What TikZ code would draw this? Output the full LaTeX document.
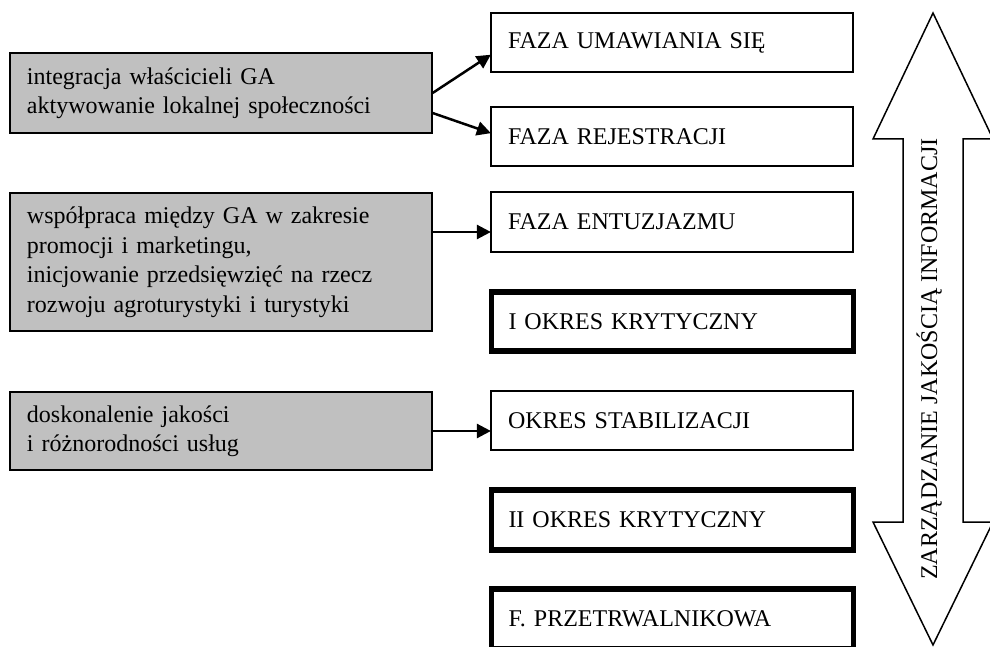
\documentclass[tikz,border=0pt]{standalone}
\usepackage{fontspec}
\setmainfont{Liberation Serif}
\usetikzlibrary{arrows.meta}
\definecolor{boxgray}{RGB}{192,192,192}
\newcommand\myfs{\fontsize{24}{29.5}\selectfont}
\begin{document}
\begin{tikzpicture}[x=1pt,y=-1pt,
  lbox/.style={draw, fill=boxgray, line width=1.2pt, rectangle, minimum width=422pt,
    inner xsep=17pt, inner ysep=0pt, text width=388pt, align=left, font=\myfs},
  rbox/.style={draw, fill=white, line width=1.2pt, rectangle, minimum width=362pt, minimum height=60pt,
    inner xsep=17pt, inner ysep=0pt, text width=328pt, align=left, font=\myfs},
  thickbox/.style={rbox, line width=5.5pt},
  arr/.style={line width=2.5pt, -{Triangle[length=14pt,width=14pt]}, shorten >=-0.5pt},
  bigarrow/.style={draw, line width=1.5pt, fill=white, line join=miter}
]
\useasboundingbox (0,0) rectangle (990,647);
\clip (0,0) rectangle (990,647);

% left boxes
\node[lbox, minimum height=80pt] (b1) at (221,93) {integracja właścicieli GA\\aktywowanie lokalnej społeczności};
\node[lbox, minimum height=138pt] (b2) at (221,262) {współpraca między GA w zakresie\\promocji i marketingu,\\inicjowanie przedsięwzięć na rzecz\\rozwoju agroturystyki i turystyki};
\node[lbox, minimum height=78pt] (b3) at (221,431) {doskonalenie jakości\\i różnorodności usług};

% right boxes
\node[rbox, minimum height=59pt] (r1) at (672,42.5) {FAZA UMAWIANIA SIĘ};
\node[rbox, minimum height=59pt] (r2) at (672,136.5) {FAZA REJESTRACJI};
\node[rbox] (r3) at (672,222) {FAZA ENTUZJAZMU};
\node[thickbox, minimum height=59pt] (r4) at (672.5,321.5) {I OKRES KRYTYCZNY};
\node[rbox, minimum height=59pt] (r5) at (672,420.5) {OKRES STABILIZACJI};
\node[thickbox] (r6) at (672.5,520) {II OKRES KRYTYCZNY};
\node[thickbox] (r7) at (672.5,619) {F. PRZETRWALNIKOWA};

% connectors
\draw[arr] (b1.east) -- ([yshift=-12.5pt]r1.west);
\draw[arr] ([yshift=-20pt]b1.east) -- ([yshift=3.5pt]r2.west);
\draw[arr] ([yshift=30pt]b2.east) -- ([yshift=30pt]b2.east -| r3.west);
\draw[arr] (b3.east) -- (b3.east -| r5.west);

% double arrow
\coordinate (tipT) at (933,13);
\coordinate (tipB) at (933,645);
\draw[bigarrow] (tipT) -- (993,139) -- (963,139) -- (963,522) -- (993,522) -- (tipB)
  -- (873,522) -- (903,522) -- (903,139) -- (873,139) -- cycle;
\node[rotate=90, anchor=base, font=\myfs, inner sep=0pt] (lab) at (937,359) {ZARZĄDZANIE JAKOŚCIĄ INFORMACJI};
\end{tikzpicture}
\end{document}
